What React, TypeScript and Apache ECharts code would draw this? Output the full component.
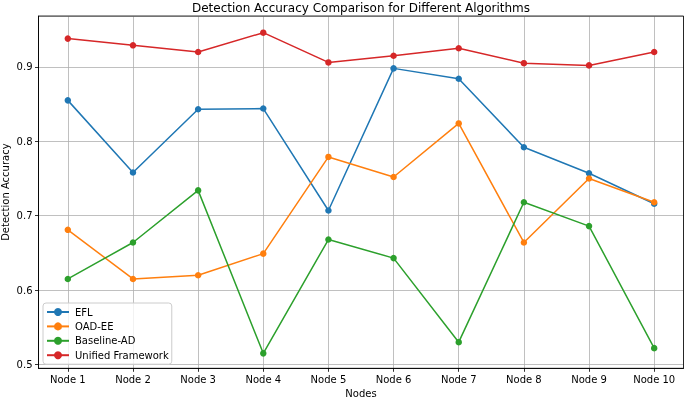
import React, { useEffect, useRef } from "react";
import * as echarts from "echarts";

const categories = ["Node 1", "Node 2", "Node 3", "Node 4", "Node 5", "Node 6", "Node 7", "Node 8", "Node 9", "Node 10"];
const efl = [0.855, 0.758, 0.843, 0.844, 0.707, 0.898, 0.884, 0.792, 0.757, 0.716];
const oadee = [0.681, 0.615, 0.620, 0.649, 0.779, 0.752, 0.824, 0.664, 0.750, 0.718];
const baseline = [0.615, 0.664, 0.734, 0.515, 0.668, 0.643, 0.530, 0.718, 0.686, 0.522];
const unified = [0.938, 0.929, 0.920, 0.946, 0.906, 0.915, 0.925, 0.905, 0.902, 0.920];
const seriesNames = ["EFL", "OAD-EE", "Baseline-AD", "Unified Framework"];
const colors = ["#1f77b4", "#ff7f0e", "#2ca02c", "#d62728"];
const titleText = "Detection Accuracy Comparison for Different Algorithms";

export default function App() {
  const ref = useRef<HTMLDivElement>(null);
  useEffect(() => {
    if (!ref.current) return;
    const chart = echarts.init(ref.current, undefined, { renderer: "svg" });
    const font = "DejaVu Sans";
    const dataSets = [efl, oadee, baseline, unified];
    const W = 685;
    const H = 400;
    const gl = 38.5, gr = 1.5, gt = 16, gb = 31.7;
    chart.setOption({
      animation: false,
      textStyle: { fontFamily: font },
      graphic: [
        {
          type: "text",
          x: 361,
          y: 8,
          z: 20,
          style: {
            text: titleText,
            font: `12px '${font}'`,
            fill: "#000",
            textAlign: "center",
            textVerticalAlign: "middle",
          },
        },
        {
          type: "rect",
          shape: { x: gl, y: gt, width: W - gl - gr, height: H - gt - gb },
          style: { fill: "none", stroke: "#000", lineWidth: 0.8 },
          silent: true,
          z: 10,
        },
      ],
      grid: { left: gl, right: gr, top: gt, bottom: gb, containLabel: false, outerBoundsMode: "none" },
      legend: {
        orient: "vertical",
        left: 43,
        top: 303,
        padding: [4, 3, 4, 3],
        itemWidth: 22,
        itemHeight: 10,
        itemGap: 4.4,
        backgroundColor: "rgba(255,255,255,0.8)",
        borderColor: "#cccccc",
        borderWidth: 1,
        borderRadius: 3,
        textStyle: { fontFamily: font, fontSize: 10, color: "#000", padding: [0, 0, 0, 1] },
        data: seriesNames,
      },
      xAxis: {
        type: "value",
        min: -0.45,
        max: 9.45,
        splitNumber: 10,
        name: "Nodes",
        nameLocation: "middle",
        nameGap: 20.5,
        nameMoveOverlap: false,
        nameTextStyle: { fontFamily: font, fontSize: 10, color: "#000" },
        axisLine: { show: true, onZero: false, lineStyle: { color: "#000", width: 0.8 } },
        axisTick: { show: true, length: 3.5, lineStyle: { color: "#000", width: 0.8 } },
        axisLabel: {
          fontFamily: font,
          fontSize: 10,
          color: "#000",
          margin: 6,
          showMinLabel: false,
          showMaxLabel: false,
          formatter: (v: number) => {
            const i = Math.round(v);
            return Math.abs(v - i) < 1e-6 && categories[i] ? categories[i] : "";
          },
        },
        splitLine: { show: true, lineStyle: { color: "#b0b0b0", width: 0.8 } },
      },
      yAxis: {
        type: "value",
        min: 0.4949,
        max: 0.9684,
        splitNumber: 5,
        name: "Detection Accuracy",
        nameLocation: "middle",
        nameGap: 28,
        nameMoveOverlap: false,
        nameTextStyle: { fontFamily: font, fontSize: 10, color: "#000" },
        axisLine: { show: true, onZero: false, lineStyle: { color: "#000", width: 0.8 } },
        axisTick: { show: true, length: 3.5, lineStyle: { color: "#000", width: 0.8 } },
        axisLabel: {
          fontFamily: font,
          fontSize: 10,
          color: "#000",
          margin: 6,
          showMinLabel: false,
          showMaxLabel: false,
          formatter: (v: number) => v.toFixed(1),
        },
        splitLine: { show: true, lineStyle: { color: "#b0b0b0", width: 0.8 } },
      },
      series: seriesNames.map((name, i) => ({
        name,
        type: "line",
        data: dataSets[i].map((v, j) => [j, v]),
        symbol: "circle",
        symbolSize: 6.5,
        itemStyle: { color: colors[i] },
        lineStyle: { color: colors[i], width: 1.5 },
        emphasis: { disabled: true },
      })),
    });
    return () => chart.dispose();
  }, []);
  return <div ref={ref} style={{ width: 685, height: 400, position: "fixed", left: 0, top: 0 }} />;
}
